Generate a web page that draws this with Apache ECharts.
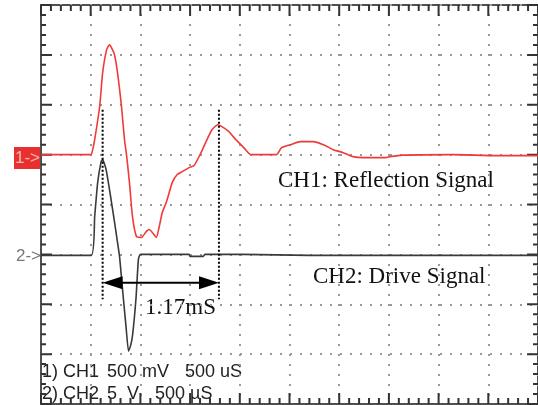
<!DOCTYPE html>
<html>
<head>
    <meta charset="utf-8">
    <title>CH1 / CH2</title>
    <script src="https://cdn.jsdelivr.net/npm/echarts@6/dist/echarts.min.js"></script>
    <style>
        * {
            margin: 0;
            padding: 0;
        }
        body {
            background: #fff;
        }
    </style>
</head>
<body>
    <div id="main" style="width: 538px; height: 405px;"></div>
    <script type="text/javascript">

        // time base: 500 uS per division, 10 divisions
        var timeMin = 0, timeMax = 5000, timeStep = 500;
        // vertical: 8 divisions, 0 = screen centre
        var divMin = -4, divMax = 4;
        var subDivs = 5;

        // CH1 reflection signal, 500 mV/div, ground one division above centre
        var ch1Pos = 1, ch1Scale = 500;
        var ch1Time = [0, 500, 520, 540, 590, 620, 660, 690, 720, 740, 770, 810, 840, 860, 890, 920, 960,
            1010, 1060, 1090, 1120, 1160, 1190, 1220, 1260, 1290, 1320, 1370, 1420, 1490, 1540, 1610, 1670,
            1720, 1780, 1820, 1890, 1960, 2040, 2110, 2370, 2420, 2510, 2610, 2740, 2840, 2940, 3040, 3140,
            3240, 3470, 3510, 3640, 4140, 4590, 5000];
        var ch1mV = [0, 0, 50, 150, 480, 820, 1050, 1100, 1050, 1000, 820, 480, 150, 0, -280, -620, -820,
            -830, -770, -750, -780, -830, -720, -580, -480, -380, -280, -200, -170, -130, -110, 20, 150,
            250, 300, 280, 230, 150, 70, 0, 0, 70, 100, 130, 130, 100, 50, 20, -20,
            -30, -30, -20, -5, 0, -10, -10];

        // CH2 drive signal, 5 V/div, ground one division below centre
        var ch2Pos = -1, ch2Scale = 5;
        var ch2Time = [0, 505, 540, 570, 605, 620, 655, 705, 755, 790, 820, 855, 880, 900, 920, 955, 980,
            1000, 1490, 1500, 1630, 1650, 2030, 2700, 5000];
        var ch2Volt = [-0.1, -0.1, 3.8, 7.2, 9.3, 9.5, 8.5, 5.5, 2.2, -0.2, -3.5, -7.2, -9.7, -9.2, -8.2, -4.5, -0.5,
            0, 0, -0.2, -0.2, 0, 0, -0.1, -0.1];

        // time cursors and their span (in divisions)
        var cursorTimes = [620, 1790];
        var cursorTop = 1.9, cursorBottom = -1.9;
        var arrowLevel = -1.57;
        var arrowLen = 20, arrowWidth = 13;

        var gridW = 500, gridH = 399;
        var pxPerDiv = gridH / (divMax - divMin);
        var usPerPx = (timeMax - timeMin) / gridW;

        var ch1Data = ch1Time.map(function (t, i) {
            return [t, ch1Pos + ch1mV[i] / ch1Scale];
        });
        var ch2Data = ch2Time.map(function (t, i) {
            return [t, ch2Pos + ch2Volt[i] / ch2Scale];
        });
        // two vertical cursor segments, broken by a gap
        var cursorData = [];
        cursorTimes.forEach(function (t, i) {
            if (i > 0) cursorData.push('-');
            cursorData.push([t, cursorTop], [t, cursorBottom]);
        });
        // arrow tip sits on the cursor: pull line ends in by half the head length
        var arrowInset = (arrowLen / 2) * usPerPx;
        var spanData = [
            [cursorTimes[0] + arrowInset, arrowLevel],
            [cursorTimes[1] - arrowInset, arrowLevel]
        ];

        // graticule ticks on all four edges, as short segments separated by gaps
        var tickData = [];
        var nx = (timeMax - timeMin) / timeStep * subDivs;
        for (var i = 0; i <= nx; i++) {
            var t = timeMin + i * timeStep / subDivs;
            var dy = (i % subDivs === 0 ? 11 : 6) / pxPerDiv;
            tickData.push([t, divMin], [t, divMin + dy], '-', [t, divMax], [t, divMax - dy], '-');
        }
        var ny = (divMax - divMin) * subDivs;
        for (var j = 0; j <= ny; j++) {
            var v = divMin + j / subDivs;
            var dx = (j % subDivs === 0 ? 11 : 5) * usPerPx;
            tickData.push([timeMin, v], [timeMin + dx, v], '-', [timeMax, v], [timeMax - dx, v], '-');
        }

        var myChart = echarts.init(document.getElementById('main'));

        var frameColor = '#505050';
        var dotLine = {
            show: true,
            lineStyle: { color: '#9a9a9a', width: 2, type: [2, 8], dashOffset: 1 }
        };

        var serif = '"Liberation Serif", "Times New Roman", serif';
        var sans = '"Liberation Sans", Arial, sans-serif';

        var option = {
            animation: false,
            backgroundColor: '#fff',
            grid: {
                left: 41, top: 5, width: gridW, height: gridH,
                show: true, borderColor: frameColor, borderWidth: 2, backgroundColor: 'transparent'
            },
            xAxis: {
                type: 'value', min: timeMin, max: timeMax, interval: timeStep,
                axisLine: { show: true, onZero: false, lineStyle: { color: frameColor, width: 2 } },
                axisTick: { show: false },
                axisLabel: { show: false },
                splitLine: dotLine
            },
            yAxis: {
                type: 'value', min: divMin, max: divMax, interval: 1,
                axisLine: { show: true, onZero: false, lineStyle: { color: frameColor, width: 2 } },
                axisTick: { show: false },
                axisLabel: { show: false },
                splitLine: dotLine
            },
            series: [
                {
                    name: 'ticks', type: 'line', data: tickData, showSymbol: false, connectNulls: false,
                    silent: true, clip: false, lineStyle: { color: '#333', width: 2 }, z: 2
                },
                {
                    name: 'CH1', type: 'line', data: ch1Data, showSymbol: false, smooth: 0.2,
                    lineStyle: { color: '#f03a3a', width: 1.6 }, z: 3
                },
                {
                    name: 'CH2', type: 'line', data: ch2Data, showSymbol: false, smooth: 0.15,
                    lineStyle: { color: '#3a3a3a', width: 1.6 }, z: 4
                },
                {
                    name: 'cursors', type: 'line', data: cursorData, showSymbol: false, connectNulls: false,
                    lineStyle: { color: '#000', width: 2, type: [2, 2] }, z: 5
                },
                {
                    name: 'span', type: 'line', data: spanData,
                    symbol: 'triangle', symbolSize: [arrowWidth, arrowLen],
                    symbolRotate: function (val, p) { return p.dataIndex === 0 ? 90 : -90; },
                    itemStyle: { color: '#000' },
                    lineStyle: { color: '#000', width: 2 }, z: 6
                }
            ],
            graphic: [
                { type: 'rect', shape: { x: 14, y: 147, width: 27, height: 22 }, style: { fill: '#e8302f' } },
                { type: 'text', x: 15, y: 158, style: { text: '1->', fill: '#f7b8b8', font: '17px ' + sans, textVerticalAlign: 'middle' } },
                { type: 'text', x: 16, y: 256, style: { text: '2->', fill: '#777', font: '17px ' + sans, textVerticalAlign: 'middle' } },
                { type: 'text', x: 278, y: 181, style: { text: 'CH1: Reflection Signal', fill: '#111', font: '23px ' + serif, textVerticalAlign: 'middle' } },
                { type: 'text', x: 313, y: 277, style: { text: 'CH2: Drive Signal', fill: '#111', font: '23px ' + serif, textVerticalAlign: 'middle' } },
                { type: 'text', x: 145, y: 308, style: { text: '1.17mS', fill: '#111', font: '23px ' + serif, textVerticalAlign: 'middle' } },
                { type: 'text', x: 42, y: 372, style: { text: '1) CH1', fill: '#222', font: '18px ' + sans, textVerticalAlign: 'middle' } },
                { type: 'text', x: 107, y: 372, style: { text: '500 mV', fill: '#222', font: '18px ' + sans, textVerticalAlign: 'middle' } },
                { type: 'text', x: 185, y: 372, style: { text: '500 uS', fill: '#222', font: '18px ' + sans, textVerticalAlign: 'middle' } },
                { type: 'text', x: 42, y: 394, style: { text: '2) CH2', fill: '#222', font: '18px ' + sans, textVerticalAlign: 'middle' } },
                { type: 'text', x: 107, y: 394, style: { text: '5', fill: '#222', font: '18px ' + sans, textVerticalAlign: 'middle' } },
                { type: 'text', x: 127, y: 394, style: { text: 'V', fill: '#222', font: '18px ' + sans, textVerticalAlign: 'middle' } },
                { type: 'text', x: 155, y: 394, style: { text: '500 µS', fill: '#222', font: '18px ' + sans, textVerticalAlign: 'middle' } }
            ]
        };

        myChart.setOption(option);
    </script>
</body>
</html>
